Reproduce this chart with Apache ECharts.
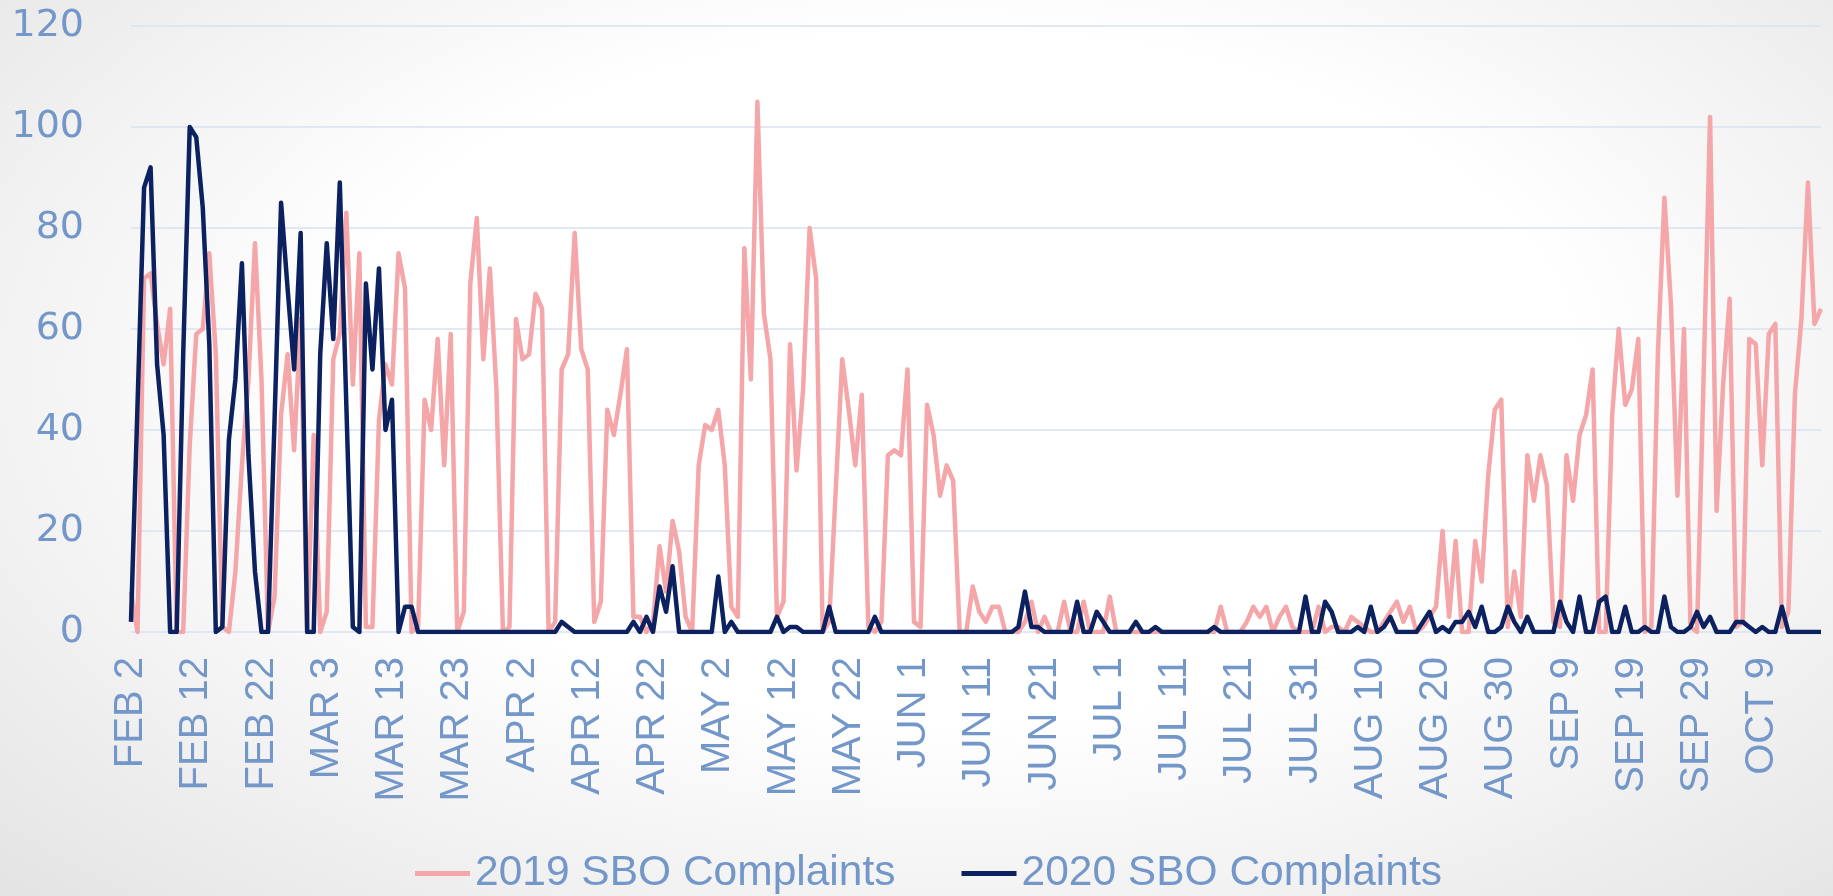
<!DOCTYPE html>
<html>
<head>
<meta charset="utf-8">
<script src="https://cdn.jsdelivr.net/npm/echarts@6/dist/echarts.min.js"></script>
<style>
html,body{margin:0;padding:0;}
body{width:1833px;height:896px;overflow:hidden;
background:radial-gradient(ellipse 75% 85% at 52% 42%, #ffffff 45%, #e2e2e2 100%);}
#chart{width:1833px;height:896px;}
</style>
</head>
<body>
<div id="chart"></div>
<script>
// Daily series starting FEB 2 (2020 calendar), 260 days
const startYear = 2020, startMonth = 1, startDay = 2;
const monthNames = ['JAN','FEB','MAR','APR','MAY','JUN','JUL','AUG','SEP','OCT','NOV','DEC'];

const sbo2019 = [
  8, 0, 70, 71, 61, 53, 64, 0, 0, 37,
  59, 60, 75, 55, 1, 0, 12, 33, 50, 77,
  50, 0, 7, 43, 55, 36, 62, 0, 39, 0,
  4, 54, 59, 83, 49, 75, 1, 1, 42, 53,
  49, 75, 68, 0, 1, 46, 40, 58, 33, 59,
  0, 4, 69, 82, 54, 72, 48, 0, 1, 62,
  54, 55, 67, 64, 0, 2, 52, 55, 79, 56,
  52, 2, 6, 44, 39, 47, 56, 3, 3, 0,
  2, 17, 8, 22, 16, 3, 0, 33, 41, 40,
  44, 33, 5, 3, 76, 50, 105, 63, 54, 3,
  6, 57, 32, 48, 80, 70, 0, 2, 28, 54,
  44, 33, 47, 1, 0, 2, 35, 36, 35, 52,
  2, 1, 45, 39, 27, 33, 30, 0, 0, 9,
  4, 2, 5, 5, 0, 0, 0, 2, 6, 0,
  3, 0, 0, 6, 0, 0, 6, 0, 0, 0,
  7, 0, 0, 0, 0, 0, 0, 0, 0, 0,
  0, 0, 0, 0, 0, 0, 0, 5, 0, 0,
  0, 2, 5, 3, 5, 0, 3, 5, 1, 0,
  0, 0, 5, 0, 1, 1, 0, 3, 2, 1,
  0, 0, 2, 4, 6, 2, 5, 0, 1, 3,
  5, 20, 3, 18, 0, 0, 18, 10, 31, 44,
  46, 1, 12, 3, 35, 26, 35, 29, 2, 1,
  35, 26, 39, 43, 52, 0, 0, 43, 60, 45,
  48, 58, 0, 1, 55, 86, 65, 27, 60, 1,
  0, 50, 102, 24, 49, 66, 1, 2, 58, 57,
  33, 59, 61, 1, 4, 47, 62, 89, 61, 64
];

const sbo2020 = [
  2, 45, 88, 92, 53, 39, 0, 0, 55, 100,
  98, 84, 57, 0, 1, 38, 50, 73, 35, 12,
  0, 0, 42, 85, 68, 52, 79, 0, 0, 55,
  77, 58, 89, 45, 1, 0, 69, 52, 72, 40,
  46, 0, 5, 5, 0, 0, 0, 0, 0, 0,
  0, 0, 0, 0, 0, 0, 0, 0, 0, 0,
  0, 0, 0, 0, 0, 0, 2, 1, 0, 0,
  0, 0, 0, 0, 0, 0, 0, 2, 0, 3,
  0, 9, 4, 13, 0, 0, 0, 0, 0, 0,
  11, 0, 2, 0, 0, 0, 0, 0, 0, 3,
  0, 1, 1, 0, 0, 0, 0, 5, 0, 0,
  0, 0, 0, 0, 3, 0, 0, 0, 0, 0,
  0, 0, 0, 0, 0, 0, 0, 0, 0, 0,
  0, 0, 0, 0, 0, 0, 1, 8, 1, 1,
  0, 0, 0, 0, 0, 6, 0, 0, 4, 2,
  0, 0, 0, 0, 2, 0, 0, 1, 0, 0,
  0, 0, 0, 0, 0, 0, 1, 0, 0, 0,
  0, 0, 0, 0, 0, 0, 0, 0, 0, 0,
  7, 0, 0, 6, 4, 0, 0, 0, 1, 0,
  5, 0, 1, 3, 0, 0, 0, 0, 2, 4,
  0, 1, 0, 2, 2, 4, 1, 5, 0, 0,
  1, 5, 2, 0, 3, 0, 0, 0, 0, 6,
  2, 0, 7, 0, 0, 6, 7, 0, 0, 5,
  0, 0, 1, 0, 0, 7, 1, 0, 0, 1,
  4, 1, 3, 0, 0, 0, 2, 2, 1, 0,
  1, 0, 0, 5, 0, 0, 0, 0, 0, 0
];

const yTicks = [0, 20, 40, 60, 80, 100, 120];
const seriesNames = ['2019 SBO Complaints', '2020 SBO Complaints'];

const categories = [];
for (let i = 0; i < sbo2019.length; i++) {
  const d = new Date(startYear, startMonth, startDay + i);
  categories.push(monthNames[d.getMonth()] + ' ' + d.getDate());
}

const textColor = '#7397c9';
const chart = echarts.init(document.getElementById('chart'), null, {renderer: 'canvas'});
chart.setOption({
  backgroundColor: 'transparent',
  animation: false,
  grid: {left: 131, right: 12, top: 26, bottom: 264, containLabel: false},
  legend: {
    data: seriesNames,
    left: 410,
    top: 847,
    itemWidth: 55,
    itemHeight: 5,
    itemGap: 66,
    icon: 'rect',
    textStyle: {color: textColor, fontSize: 42.5, fontFamily: 'Liberation Sans'}
  },
  xAxis: {
    type: 'category',
    data: categories,
    boundaryGap: false,
    axisLine: {show: false},
    axisTick: {show: false},
    axisLabel: {
      interval: 9,
      rotate: 90,
      margin: 25,
      color: textColor,
      fontSize: 40,
      fontFamily: 'Liberation Sans'
    }
  },
  yAxis: {
    type: 'value',
    min: yTicks[0],
    max: yTicks[yTicks.length - 1],
    interval: 20,
    axisLine: {show: false},
    axisTick: {show: false},
    splitLine: {lineStyle: {color: '#d9e2f1', width: 1.5}},
    axisLabel: {
      margin: 47,
      align: 'right',
      color: textColor,
      fontSize: 38,
      fontFamily: 'DejaVu Sans'
    }
  },
  series: [
    {
      name: seriesNames[0],
      type: 'line',
      data: sbo2019,
      symbol: 'none',
      color: '#f4a6a8',
      lineStyle: {width: 4.5, color: '#f4a6a8', join: 'round'}
    },
    {
      name: seriesNames[1],
      type: 'line',
      data: sbo2020,
      symbol: 'none',
      color: '#0b2160',
      lineStyle: {width: 4.5, color: '#0b2160', join: 'round'}
    }
  ]
});
</script>
</body>
</html>
